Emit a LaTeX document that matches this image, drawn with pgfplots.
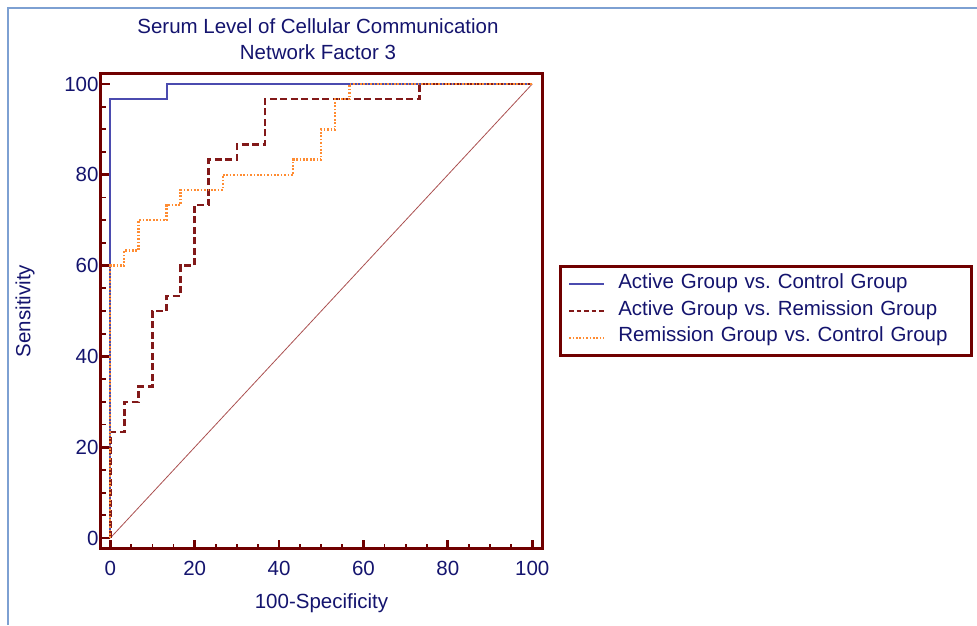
\documentclass[border=0pt]{standalone}
\usepackage{pgfplots}
\pgfplotsset{compat=1.18}
\usepackage{fontspec}
\setmainfont{Liberation Sans}
\definecolor{axred}{RGB}{112,0,0}
\definecolor{txt}{RGB}{20,20,110}
\definecolor{cblue}{RGB}{75,75,175}
\definecolor{cred}{RGB}{130,25,25}
\definecolor{corange}{RGB}{255,140,50}
\definecolor{cdiag}{RGB}{170,80,80}
\definecolor{framec}{RGB}{125,160,210}
\begin{document}
\frenchspacing
\begin{tikzpicture}
\useasboundingbox (0,0) rectangle (977pt,625pt);
\draw[framec, line width=1.2pt] (8pt,0pt) -- (8pt,617pt) -- (977pt,617pt);
\begin{axis}[
  at={(101pt,76.5pt)}, anchor=south west,
  width=441pt, height=475pt, scale only axis,
  xmin=-2.2, xmax=102.3, ymin=-2.3, ymax=102.3,
  xtick={0,20,...,100}, ytick={0,20,...,100},
  minor tick num=3,
  tick pos=left, tick align=inside,
  major tick length=9pt, minor tick length=5pt,
  major tick style={line width=2.8pt, color=axred},
  minor tick style={line width=1.8pt, color=axred},
  axis line style={line width=3pt, color=axred},
  /pgf/number format/assume math mode=true,
  ticklabel style={font=\fontsize{20.5}{24}\selectfont, text=txt},
  xticklabel style={yshift=-9pt},
  yticklabel style={xshift=1pt},
  xlabel={100-Specificity}, ylabel={Sensitivity},
  label style={font=\fontsize{20.5}{24}\selectfont, text=txt},
  xlabel style={at={(axis description cs:0.5,-0.1147)}, anchor=center},
  ylabel style={at={(axis description cs:-0.1723,0.5)}, anchor=center},
  title={Serum Level of Cellular Communication\\Network Factor 3},
  title style={at={(axis description cs:0.492,1.060)}, anchor=center, align=center, font=\fontsize{20.5}{26}\selectfont, text=txt},
  legend style={at={(axis description cs:1.0385,0.5)}, anchor=west, draw=axred, line width=3pt, inner xsep=7.5pt, inner ysep=8.5pt, row sep=8.7pt, column sep=13pt, font=\fontsize{20.5}{24}\selectfont, text=txt, nodes={inner sep=0pt, text height=13pt, text depth=5pt, text width=346pt, align=left}},
  legend cell align=left,
  legend image code/.code={\draw[#1] (0pt,0pt) -- (35pt,0pt);},
]
\addplot[cdiag, line width=0.8pt, forget plot] coordinates {(0,0) (100,100)};
\addplot[cblue, line width=2pt] coordinates {(0,0) (0,96.67) (13.33,96.67) (13.33,100) (100,100)};
\addlegendentry{Active Group vs. Control Group}
\addplot[cred, line width=2.6pt, dash pattern=on 7pt off 3.5pt, legend image code/.code={\draw[cred, line width=2pt, dash pattern=on 4.6pt off 2.9pt] (0pt,0pt) -- (35pt,0pt);}] coordinates {(0,0) (0,23.33) (3.33,23.33) (3.33,30) (6.67,30) (6.67,33.33) (10,33.33) (10,50) (13.33,50) (13.33,53.33) (16.67,53.33) (16.67,60) (20,60) (20,73.33) (23.33,73.33) (23.33,83.33) (30,83.33) (30,86.67) (36.67,86.67) (36.67,96.67) (73.33,96.67) (73.33,100) (100,100)};
\addlegendentry{Active Group vs. Remission Group}
\addplot[corange, line width=2.3pt, dash pattern=on 1.7pt off 1.7pt] coordinates {(0,0) (0,60) (3.33,60) (3.33,63.33) (6.67,63.33) (6.67,70) (13.33,70) (13.33,73.33) (16.67,73.33) (16.67,76.67) (26.67,76.67) (26.67,80) (43.33,80) (43.33,83.33) (50,83.33) (50,90) (53.33,90) (53.33,96.67) (56.67,96.67) (56.67,100) (100,100)};
\addlegendentry{Remission Group vs. Control Group}
\end{axis}
\end{tikzpicture}
\end{document}
